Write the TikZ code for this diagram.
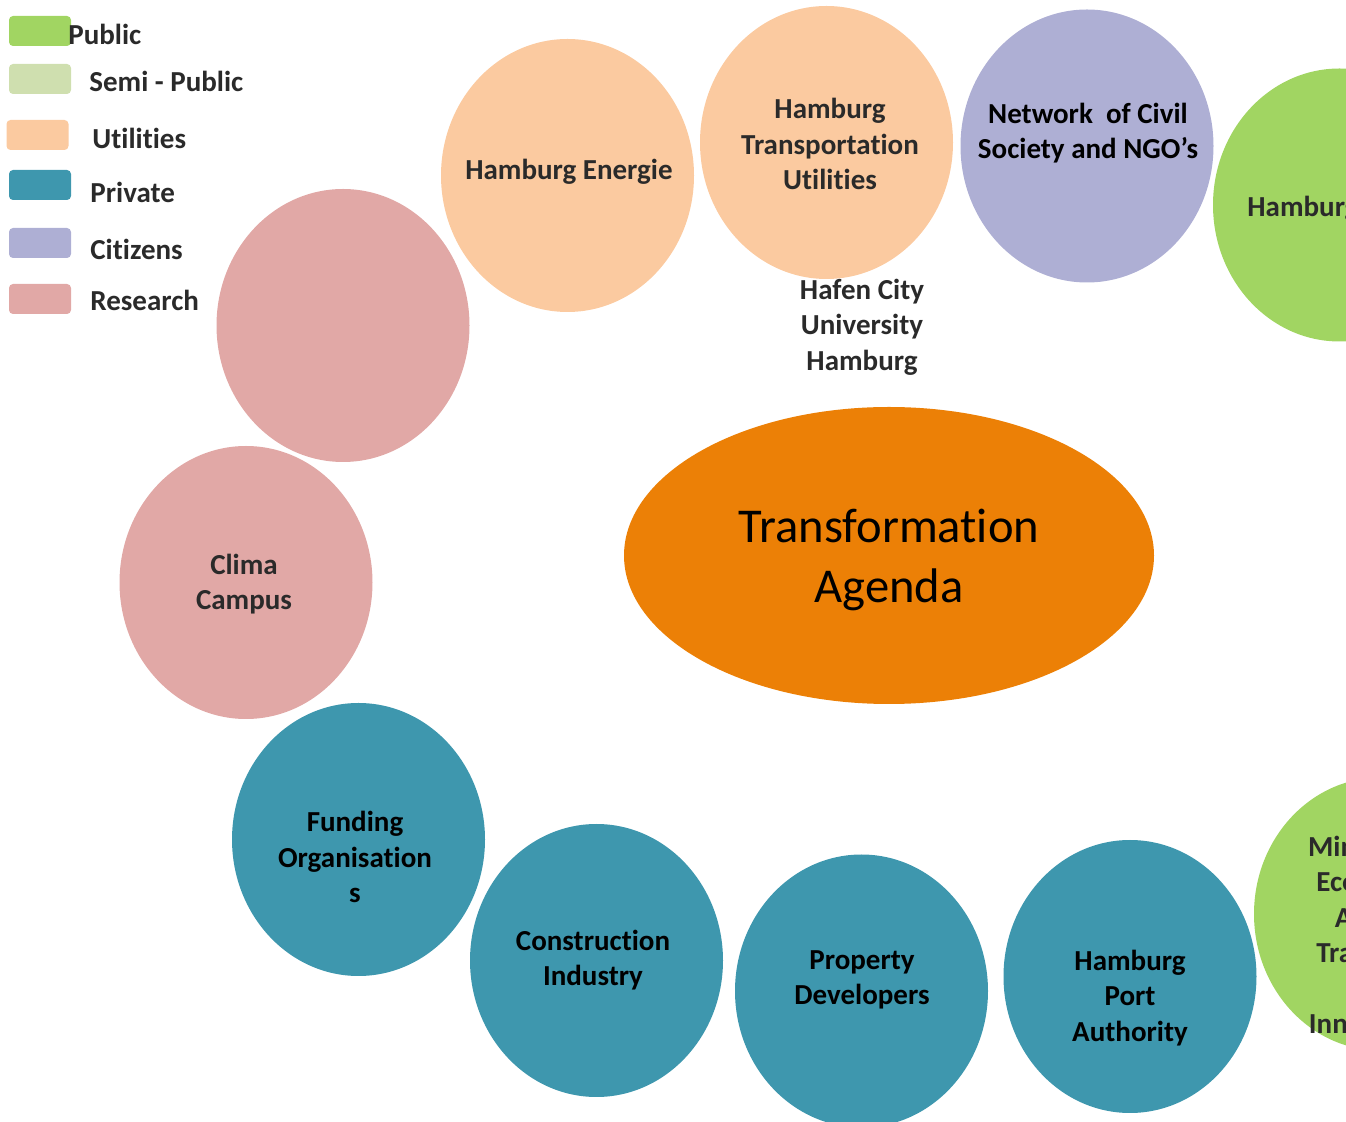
\documentclass[tikz,border=0pt]{standalone}
\usepackage{fontspec}
\setmainfont{Carlito}[Ligatures=NoCommon]
\usetikzlibrary{shapes.geometric}

\definecolor{publicgreen}{HTML}{A1D562}
\definecolor{semigreen}{HTML}{CFDFAF}
\definecolor{utility}{HTML}{FBCAA0}
\definecolor{private}{HTML}{3E97AE}
\definecolor{citizen}{HTML}{AEAFD4}
\definecolor{research}{HTML}{E1A8A6}
\definecolor{agenda}{HTML}{EC8006}
\definecolor{darktext}{HTML}{2A2A2A}

\tikzset{
    bubble/.style={ellipse, fill=#1, draw=none, inner sep=0pt,
        minimum width=126.5pt, minimum height=136.5pt},
    lbl/.style={inner sep=0pt, align=center, text=darktext,
        font=\fontsize{14.5}{17.75}\selectfont\bfseries},
    swatch/.style={rectangle, rounded corners=2pt, fill=#1, inner sep=0pt,
        minimum width=31pt, minimum height=15pt},
}

\begin{document}
\begin{tikzpicture}[x=0.5pt, y=-0.5pt]
        \useasboundingbox (0,0) rectangle (1346,1122);
        \clip (0,0) rectangle (1346,1122);

        % Legend
        \node[swatch=publicgreen] (sw-public) at (40,31) {};
        \node[swatch=semigreen] (sw-semi) at (40,79) {};
        \node[swatch=utility] (sw-util) at (37.5,135) {};
        \node[swatch=private] (sw-private) at (40,185) {};
        \node[swatch=citizen] (sw-citizen) at (40,243) {};
        \node[swatch=research] (sw-research) at (40,299) {};
        \node[lbl, anchor=west] (lg-public) at (68,34) {Public};
        \node[lbl, anchor=west] (lg-semi) at (89,81) {Semi - Public};
        \node[lbl, anchor=west] (lg-util) at (92,138) {Utilities};
        \node[lbl, anchor=west] (lg-private) at (90,192) {Private};
        \node[lbl, anchor=west] (lg-citizen) at (90,249) {Citizens};
        \node[lbl, anchor=west] (lg-research) at (90,300) {Research};

        % Top arc
        \node[bubble=utility] (energie) at (567.5,175.5) {};
        \node[lbl] (energie-t) at (569,172) {Hamburg Energie};
        \node[bubble=utility] (transport) at (826.5,142.5) {};
        \node[lbl] (transport-t) at (830,144) {Hamburg\\Transportation\\Utilities};
        \node[bubble=citizen] (ngo) at (1087,146) {};
        \node[lbl, text=black] (ngo-t) at (1088,133) {Network\ \ of Civil\\Society and NGO’s};
        \node[bubble=publicgreen] (senate) at (1339.5,205) {};
        \node[lbl, anchor=west] (senate-t) at (1247,209) {Hamburg};
        \node[lbl] (hcu) at (862,327) {Hafen City\\University\\Hamburg};

        % Left arc
        \node[bubble=research] (uni) at (343,325.5) {};
        \node[bubble=research] (clima) at (246,582.5) {};
        \node[lbl] (clima-t) at (244,584) {Clima\\Campus};

        % Bottom arc
        \node[bubble=private] (funding) at (358.5,839.5) {};
        \node[lbl, text=black] (funding-t) at (355,857) {Funding\\Organisation\\s};
        \node[bubble=private] (construct) at (596.5,960.5) {};
        \node[lbl, text=black] (construct-t) at (593,960) {Construction\\Industry};
        \node[bubble=private] (property) at (861.5,991) {};
        \node[lbl, text=black] (property-t) at (862,980) {Property\\Developers};
        \node[bubble=private] (port) at (1130,976.5) {};
        \node[lbl, text=black] (port-t) at (1130,998) {Hamburg\\Port\\Authority};
        \node[bubble=publicgreen] (ministry) at (1380.5,914) {};
        \node[lbl] (ministry-t) at (1374,935) {Ministry of\\Economic\\Affairs\\Transport\\and\\Innovation};

        % Centre
        \node[ellipse, fill=agenda, inner sep=0pt, minimum width=265pt,
            minimum height=148.5pt] (agenda) at (889,555.5) {};
        \node[inner sep=0pt, align=center, font=\fontsize{24.3}{30}\selectfont]
            (agenda-t) at (889,560) {Transformation\\Agenda};
    \end{tikzpicture}
\end{document}
